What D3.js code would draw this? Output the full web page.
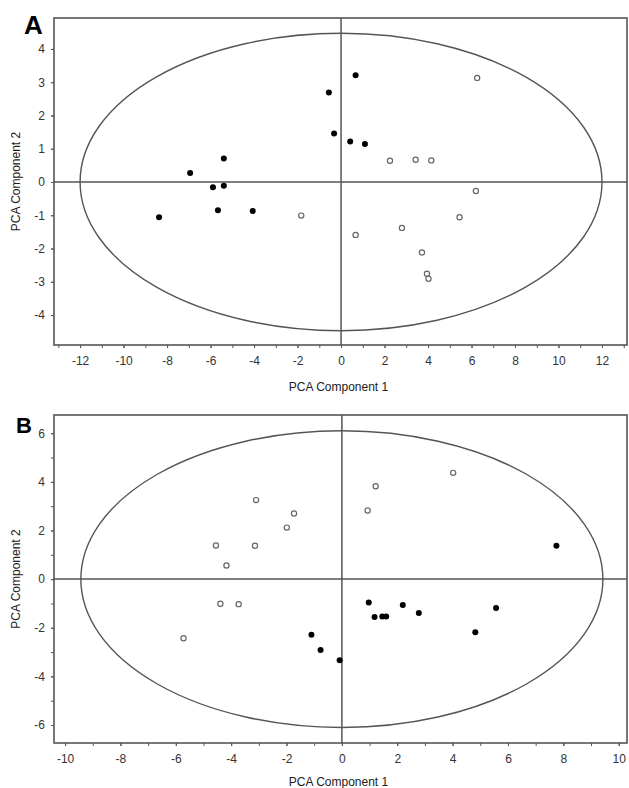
<!DOCTYPE html>
<html>
<head>
<meta charset="utf-8">
<script src="https://cdn.jsdelivr.net/npm/d3@7"></script>
<style>
  body { margin: 0; background: #fff; }
  svg { display: block; font-family: Arial, "Liberation Sans", sans-serif; }
  .tick text { fill: #333; font-size: 12px; }
</style>
</head>
<body>
<svg id="chart" width="629" height="788"></svg>
<script>
// panel A scores [PC1, PC2]
const aFilled = [[-6.94, 0.27], [-5.39, 0.71], [-5.89, -0.16], [-5.39, -0.11], [-8.37, -1.06],
  [-5.66, -0.85], [-4.06, -0.87], [0.67, 3.21], [-0.56, 2.69], [-0.32, 1.46], [0.42, 1.22], [1.1, 1.14]];
const aOpen = [[-1.83, -1.01], [6.26, 3.13], [2.25, 0.64], [3.43, 0.67], [4.15, 0.65], [6.2, -0.27],
  [0.67, -1.59], [2.8, -1.38], [5.45, -1.06], [3.72, -2.12], [3.95, -2.76], [4.02, -2.91]];
const aEllipse = [12, 4.47];
const aXTicks = [-12, -10, -8, -6, -4, -2, 0, 2, 4, 6, 8, 10, 12];
const aYTicks = [-4, -3, -2, -1, 0, 1, 2, 3, 4];

// panel B scores
const bFilled = [[7.75, 1.37], [-1.1, -2.29], [-0.77, -2.91], [-0.08, -3.34], [0.97, -0.96], [1.18, -1.56],
  [1.46, -1.54], [1.6, -1.54], [2.2, -1.06], [2.78, -1.39], [4.82, -2.18], [5.57, -1.19]];
const bOpen = [[-4.55, 1.38], [-4.17, 0.56], [-3.1, 3.25], [-3.14, 1.37], [-1.99, 2.12], [-1.73, 2.7],
  [1.22, 3.82], [0.93, 2.82], [4.02, 4.37], [-4.39, -1.01], [-3.73, -1.03], [-5.72, -2.43]];
const bEllipse = [9.43, 6.1];
const bXTicks = [-10, -8, -6, -4, -2, 0, 2, 4, 6, 8, 10];
const bYTicks = [-6, -4, -2, 0, 2, 4, 6];

const svg = d3.select('#chart');
const LINE = '#555';
const fmt = d => String(d); // plain hyphen minus, like the original

function drawPanel(o) {
  const x = d3.scaleLinear().domain(o.xDom).range([o.left, o.right]);
  const y = d3.scaleLinear().domain(o.yDom).range([o.bottom, o.top]);
  const g = svg.append('g');

  // minor ticks (every unit)
  const xMinor = d3.range(Math.ceil(o.xDom[0]), Math.floor(o.xDom[1]) + 1);
  const yMinor = d3.range(Math.ceil(o.yDom[0]), Math.floor(o.yDom[1]) + 1);
  g.append('g').attr('transform', `translate(0,${o.bottom})`)
    .call(d3.axisBottom(x).tickValues(xMinor).tickSize(3).tickFormat(''))
    .call(a => a.select('.domain').remove())
    .selectAll('line').attr('stroke', LINE);
  g.append('g').attr('transform', `translate(${o.left},0)`)
    .call(d3.axisLeft(y).tickValues(yMinor).tickSize(3).tickFormat(''))
    .call(a => a.select('.domain').remove())
    .selectAll('line').attr('stroke', LINE);

  // labelled axes
  const xa = g.append('g').attr('transform', `translate(0,${o.bottom})`)
    .call(d3.axisBottom(x).tickValues(o.xTicks).tickFormat(fmt).tickSize(3).tickPadding(8));
  xa.select('.domain').remove();
  xa.selectAll('line').attr('stroke', LINE);
  const ya = g.append('g').attr('transform', `translate(${o.left},0)`)
    .call(d3.axisLeft(y).tickValues(o.yTicks).tickFormat(fmt).tickSize(3).tickPadding(6));
  ya.select('.domain').remove();
  ya.selectAll('line').attr('stroke', LINE);

  // frame
  g.append('rect').attr('x', o.left).attr('y', o.top)
    .attr('width', o.right - o.left).attr('height', o.bottom - o.top)
    .attr('fill', 'none').attr('stroke', LINE).attr('stroke-width', 1.6);

  // zero lines
  g.append('line').attr('x1', x(0)).attr('x2', x(0)).attr('y1', o.top).attr('y2', o.bottom)
    .attr('stroke', LINE).attr('stroke-width', 1.5);
  g.append('line').attr('x1', o.left).attr('x2', o.right).attr('y1', y(0)).attr('y2', y(0))
    .attr('stroke', LINE).attr('stroke-width', 1.5);

  // confidence ellipse
  g.append('ellipse').attr('cx', x(0)).attr('cy', y(0))
    .attr('rx', x(o.ellipse[0]) - x(0)).attr('ry', y(0) - y(o.ellipse[1]))
    .attr('fill', 'none').attr('stroke', LINE).attr('stroke-width', 1.4);

  g.append('g').selectAll('circle').data(o.open).join('circle')
    .attr('cx', d => x(d[0])).attr('cy', d => y(d[1])).attr('r', 2.6)
    .attr('fill', '#fff').attr('stroke', '#666').attr('stroke-width', 1.2);
  g.append('g').selectAll('circle').data(o.filled).join('circle')
    .attr('cx', d => x(d[0])).attr('cy', d => y(d[1])).attr('r', 3)
    .attr('fill', '#000');

  // titles
  g.append('text').attr('x', (o.left + o.right) / 2 - 2).attr('y', o.xTitleY)
    .attr('text-anchor', 'middle').attr('font-size', 12).attr('fill', '#222')
    .text('PCA Component 1');
  g.append('text').attr('transform', `translate(20,${(o.top + o.bottom) / 2}) rotate(-90)`)
    .attr('text-anchor', 'middle').attr('font-size', 12).attr('fill', '#222')
    .text('PCA Component 2');
  g.append('text').attr('x', o.letterX).attr('y', o.letterY)
    .attr('font-size', o.letterSize).attr('font-weight', 'bold').attr('fill', '#000')
    .text(o.letter);
}

drawPanel({
  letter: 'A', letterX: 24, letterY: 34, letterSize: 26,
  left: 54, right: 627, top: 18, bottom: 345,
  xDom: [-13.2, 13.15], yDom: [-4.9, 4.93],
  xTicks: aXTicks, yTicks: aYTicks, ellipse: aEllipse,
  filled: aFilled, open: aOpen, xTitleY: 391
});

drawPanel({
  letter: 'B', letterX: 16, letterY: 433, letterSize: 22,
  left: 54, right: 627, top: 415, bottom: 743,
  xDom: [-10.4, 10.3], yDom: [-6.74, 6.75],
  xTicks: bXTicks, yTicks: bYTicks, ellipse: bEllipse,
  filled: bFilled, open: bOpen, xTitleY: 786
});
</script>
</body>
</html>
